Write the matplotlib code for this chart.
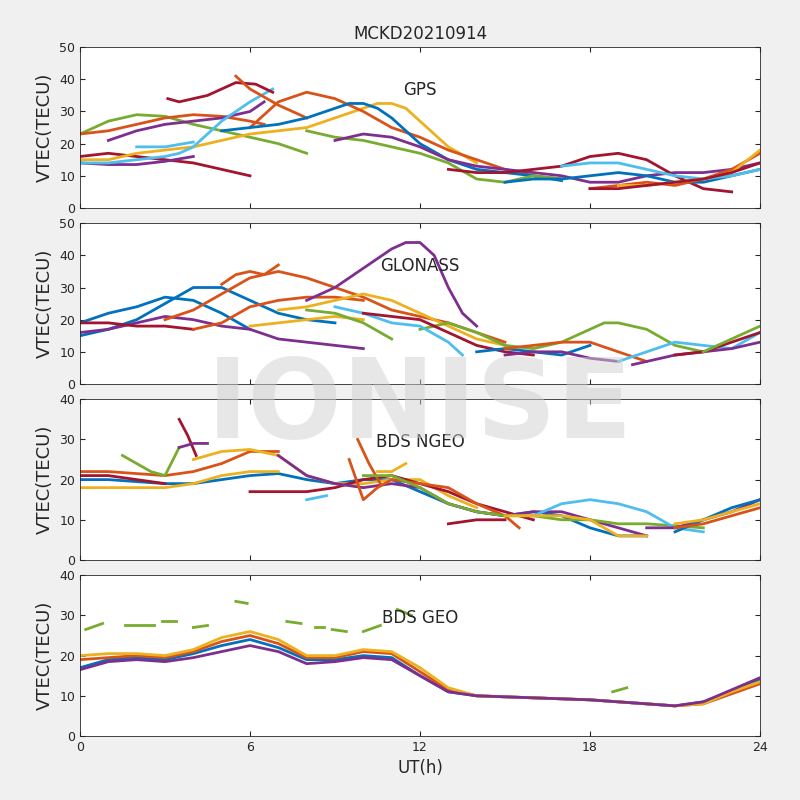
import matplotlib
matplotlib.use('Agg')
import matplotlib.pyplot as plt

# MATLAB default line colours
B, O, Y, P, G, L, R = '#0072BD', '#D95319', '#EDB120', '#7E2F8E', '#77AC30', '#4DBEEE', '#A2142F'

titulo = 'MCKD20210914'
rotulos = ['GPS', 'GLONASS', 'BDS NGEO', 'BDS GEO']
ylims = [50, 50, 40, 40]

# each arc: (colour, hours, vtec)
gps = [
    (G, [0, 1, 2, 3, 4, 5, 6, 7, 8], [23, 27, 29, 28.5, 26, 24, 22, 20, 17]),
    (O, [0, 1, 2, 3, 4, 5, 6, 6.5], [23, 24, 26, 28, 29, 28.5, 27, 26]),
    (R, [0, 1, 2, 3, 4, 5, 6], [16, 17, 16, 15, 14, 12, 10]),
    (Y, [0, 1, 2, 3, 4, 5, 6, 7, 8, 9, 10, 10.5, 11, 11.5, 12, 13, 14],
        [15, 15, 17, 18, 19, 21, 23, 24, 25, 28, 31, 32.5, 32.5, 31, 27, 19, 14]),
    (P, [0, 1, 2, 3, 4], [14, 13.5, 13.5, 14.5, 16]),
    (P, [1, 2, 3, 4, 5, 6, 6.5], [21, 24, 26, 27, 28, 30, 33]),
    (L, [0, 1, 2, 3, 3.5, 4, 5, 6, 6.8], [14, 14, 15, 16, 17, 19, 27, 33, 37]),
    (L, [2, 3, 4], [19, 19, 20.5]),
    (R, [3.1, 3.5, 4.5, 5.5, 6.2, 6.8], [34, 33, 35, 39, 38.5, 36]),
    (O, [5.5, 6, 7, 8], [41, 37, 32, 28]),
    (O, [6, 7, 8, 9, 10, 11, 12, 13, 14, 15, 16, 17], [25, 33, 36, 34, 30, 25, 22, 18, 15, 12, 10, 9]),
    (B, [5, 6, 7, 8, 9, 9.5, 10, 10.5, 11, 12, 13, 14, 15, 16, 17],
        [24, 25, 26, 28, 31, 32.5, 32.5, 31, 28, 20, 15, 12, 11, 10, 8.5]),
    (G, [8, 9, 10, 11, 12, 13, 14, 15, 16, 17], [24, 22, 21, 19, 17, 14, 9, 8, 10, 9]),
    (P, [9, 10, 11, 12, 13, 14, 15, 16, 17, 18, 19, 20, 21, 22, 23, 24],
        [21, 23, 22, 19, 15, 13, 12, 11, 10, 8, 8, 10, 11, 11, 12, 14]),
    (R, [13, 14, 15, 16, 17, 18, 19, 20, 21, 22, 23], [12, 11, 11, 12, 13, 16, 17, 15, 10, 6, 5]),
    (B, [15, 16, 17, 18, 19, 20, 21, 22, 23, 24], [8, 9, 9, 10, 11, 10, 8, 8, 10, 12]),
    (L, [17, 18, 19, 20, 21, 22, 23, 24], [13, 14, 14, 12, 10, 9, 10, 12]),
    (O, [18, 19, 20, 21, 22, 23, 24], [6, 7, 8, 7, 9, 12, 17]),
    (Y, [19, 20, 21, 22, 23, 24], [7, 7, 8, 9, 11, 18]),
    (R, [18, 19, 20, 21, 22, 23, 24], [6, 6, 7, 8, 9, 11, 14]),
]

glonass = [
    (B, [0, 1, 2, 3, 4, 5, 6], [19, 22, 24, 27, 26, 22, 17]),
    (B, [0, 1, 2, 3, 4, 5, 6, 7, 8, 9], [15, 17, 20, 25, 30, 30, 26, 22, 20, 19]),
    (P, [0, 1, 2, 3, 4, 5, 6, 7, 8, 9, 10], [16, 17, 19, 21, 20, 18, 17, 14, 13, 12, 11]),
    (R, [0, 1, 2, 3, 4], [19, 19, 18, 18, 17]),
    (O, [3, 4, 5, 6, 7, 8, 9, 10, 11, 12, 13, 14, 15],
        [20, 23, 28, 33, 35, 33, 30, 27, 23, 21, 19, 16, 13]),
    (O, [4, 5, 6, 7, 8, 9, 10], [17, 19, 24, 26, 27, 27, 26]),
    (O, [5, 5.5, 6, 6.5, 7], [31, 34, 35, 34, 37]),
    (Y, [7, 8, 9, 10, 11, 12, 13, 14, 15], [23, 24, 26, 28, 26, 22, 18, 14, 12]),
    (Y, [6, 7, 8, 9, 10], [18, 19, 20, 21, 20]),
    (P, [8, 9, 10, 11, 11.5, 12, 12.5, 13, 13.5, 14], [26, 30, 36, 42, 44, 44, 40, 30, 22, 18]),
    (G, [8, 9, 10, 11], [23, 22, 19, 14]),
    (G, [12, 13, 14, 15, 16, 17, 18, 18.5, 19, 20, 21, 22],
        [17, 19, 16, 12, 11, 13, 17, 19, 19, 17, 12, 10]),
    (L, [9, 10, 11, 12, 13, 13.5], [24, 22, 19, 18, 13, 9]),
    (R, [10, 11, 12, 13, 14, 15, 16], [22, 21, 20, 16, 12, 10, 9]),
    (B, [14, 15, 16, 17, 18], [10, 11, 10, 9, 12]),
    (O, [15, 16, 17, 18, 19, 20], [11, 12, 13, 13, 10, 7]),
    (P, [15, 16, 17, 18, 19], [9, 10, 10, 8, 7]),
    (L, [19, 20, 21, 22, 23, 24], [7, 10, 13, 12, 11, 16]),
    (P, [19.5, 20, 21, 22, 23, 24], [6, 7, 9, 10, 11, 13]),
    (R, [21, 22, 23, 24], [9, 10, 13, 16]),
    (G, [22, 23, 24], [10, 14, 18]),
]

ngeo = [
    (O, [0, 1, 2, 3, 4, 5, 6, 7], [22, 22, 21.5, 21, 22, 24, 27, 27]),
    (B, [0, 1, 2, 3, 4, 5, 6, 7, 8, 9, 10, 11, 12, 13, 14, 15, 16, 17, 18, 19, 20],
        [20, 20, 19.5, 19, 19, 20, 21, 21.5, 20, 19, 20, 20, 17, 14, 12, 11, 12, 11, 8, 6, 6]),
    (Y, [0, 1, 2, 3, 4, 5, 6, 7], [18, 18, 18, 18, 19, 21, 22, 22]),
    (R, [0, 1, 2, 3], [21, 21, 20, 19]),
    (G, [1.5, 2, 2.5, 3, 3.5], [26, 24, 22, 21, 28]),
    (R, [3.5, 3.8, 4.1], [35, 31, 26]),
    (P, [3.5, 4, 4.5], [28, 29, 29]),
    (Y, [4, 5, 6, 7, 8, 9, 10, 11, 12, 13, 14], [25, 27, 27.5, 26, 21, 19, 19, 20, 20, 16, 13]),
    (R, [6, 7, 8, 9, 10, 11, 12, 13, 14, 15, 16], [17, 17, 17, 18, 20, 21, 19, 17, 14, 12, 10]),
    (P, [7, 8, 9, 10, 11, 12, 13, 14, 15, 16, 17, 18, 19, 20],
        [26, 21, 19, 18, 19, 18, 14, 12, 11, 12, 12, 10, 8, 6]),
    (L, [8, 8.7], [15, 16]),
    (O, [9.5, 10, 10.5, 11, 12, 13, 14, 15, 15.5], [25, 15, 18, 20, 19, 18, 14, 11, 8]),
    (O, [9.8, 10.2, 10.6], [30, 24, 19]),
    (G, [10, 11, 12, 13, 14, 15, 16, 17, 18, 19, 20, 21, 22],
        [21, 21, 18, 14, 12, 11, 11, 10, 10, 9, 9, 8.5, 8]),
    (Y, [10.5, 11, 11.5], [22, 22, 24]),
    (L, [16, 17, 18, 19, 20, 21, 22], [11, 14, 15, 14, 12, 8, 7]),
    (Y, [15, 16, 17, 18, 19, 20], [11, 11, 11, 10, 6, 6]),
    (P, [20, 21, 22, 23, 24], [8, 8, 10, 12, 15]),
    (B, [21, 22, 23, 24], [7, 10, 13, 15]),
    (O, [21, 22, 23, 24], [8, 9, 11, 13]),
    (Y, [21, 22, 23, 24], [9, 10, 12, 14]),
    (R, [13, 14, 15], [9, 10, 10]),
]

geo = [
    (B, [0, 1, 2, 3, 4, 5, 6, 7, 8, 9, 10, 11, 12, 13, 14, 16, 18, 20, 21, 22, 23, 24],
        [17, 19, 19.5, 19, 20.5, 22.5, 24, 22, 19, 19, 20, 19.5, 15, 11, 10, 9.5, 9, 8, 7.5, 8.5, 11, 14]),
    (O, [0, 1, 2, 3, 4, 5, 6, 7, 8, 9, 10, 11, 12, 13, 14, 16, 18, 20, 21, 22, 23, 24],
        [19, 19.5, 20, 19.5, 21, 23.5, 25, 23, 19.5, 19.5, 21, 20.5, 16, 11.5, 10, 9.5, 9, 8, 7.5, 8, 10.5, 13]),
    (Y, [0, 1, 2, 3, 4, 5, 6, 7, 8, 9, 10, 11, 12, 13, 14, 16, 18, 20, 21, 22, 23, 24],
        [20, 20.5, 20.5, 20, 21.5, 24.5, 26, 24, 20, 20, 21.5, 21, 17, 12, 10, 9.5, 9, 8, 7.5, 8, 11, 13.5]),
    (P, [0, 1, 2, 3, 4, 5, 6, 7, 8, 9, 10, 11, 12, 13, 14, 16, 18, 20, 21, 22, 23, 24],
        [16.5, 18.5, 19, 18.5, 19.5, 21, 22.5, 21, 18, 18.5, 19.5, 19, 15, 11, 10, 9.5, 9, 8, 7.5, 8.5, 11.5, 14.5]),
    (G, [0.2, 0.8], [26.5, 28]),
    (G, [1.6, 2.6], [27.5, 27.5]),
    (G, [2.9, 3.4], [28.5, 28.5]),
    (G, [4.0, 4.5], [27, 27.5]),
    (G, [5.5, 5.9], [33.5, 33]),
    (G, [7.3, 7.8], [28.5, 28]),
    (G, [8.3, 8.6], [27, 27]),
    (G, [8.9, 9.4], [26.5, 26]),
    (G, [10.0, 10.6], [26, 27.5]),
    (G, [11.2, 11.7], [31.5, 30]),
    (G, [18.8, 19.3], [11, 12]),
]

paineis = [gps, glonass, ngeo, geo]

fig, axes = plt.subplots(4, 1, figsize=(8, 8), dpi=100, sharex=True)
fig.patch.set_facecolor('#f0f0f0')
fig.subplots_adjust(left=0.1, right=0.95, top=0.941, bottom=0.08, hspace=0.095)

for ax, arcos, rot, ym in zip(axes, paineis, rotulos, ylims):
    for cor, t, v in arcos:
        ax.plot(t, v, color=cor, lw=2)
    ax.set_xlim(0, 24)
    ax.set_ylim(0, ym)
    ax.set_yticks(range(0, ym + 1, 10))
    ax.set_xticks(range(0, 25, 6))
    ax.set_ylabel('VTEC(TECU)', fontsize=13, color='#262626')
    ax.text(0.5, 0.7, rot, transform=ax.transAxes, ha='center', fontsize=12, color='#262626')
    ax.tick_params(labelsize=9, colors='#262626', direction='in', top=True, right=True)
    for s in ax.spines.values():
        s.set_color('#262626')
        s.set_linewidth(0.6)

axes[-1].set_xlabel('UT(h)', fontsize=12, color='#262626')
axes[0].set_title(titulo, fontsize=12, color='#262626')
fig.text(0.525, 0.49, 'IONISE', fontsize=80, fontweight='bold', color='#d0d0d0', alpha=0.5,
         ha='center', va='center')

fig.savefig('out.png', dpi=100, facecolor=fig.get_facecolor())
